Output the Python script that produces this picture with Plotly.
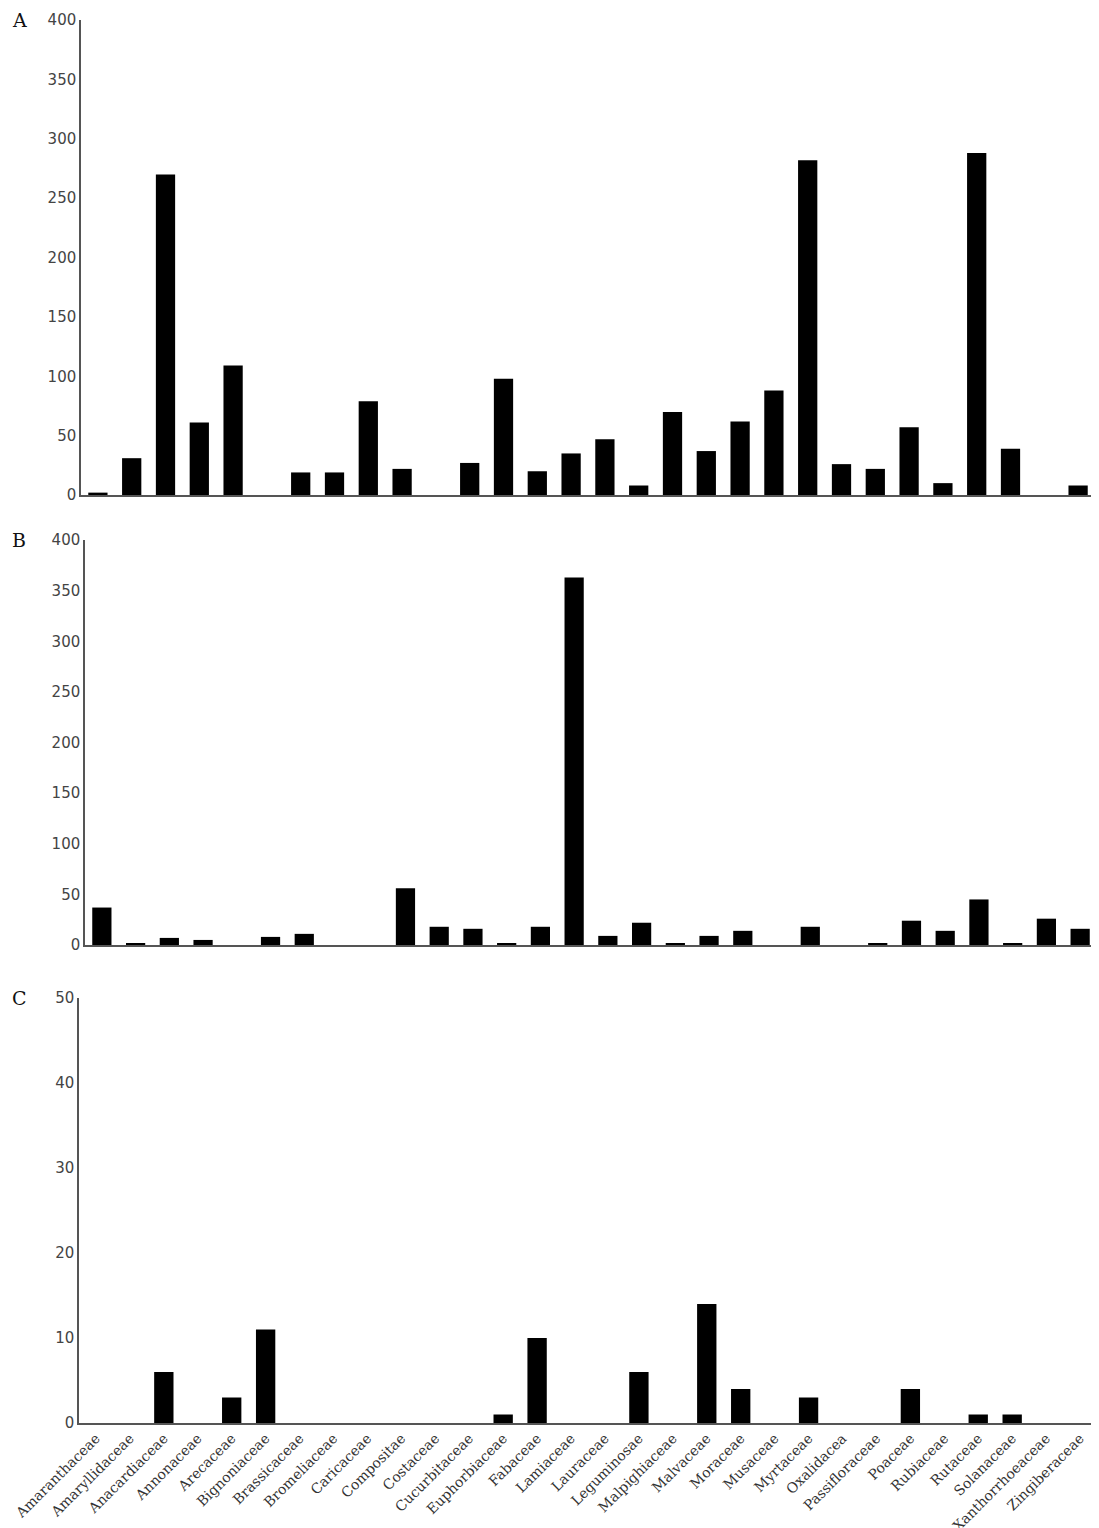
import plotly.graph_objects as go

families = ["Amaranthaceae", "Amaryllidaceae", "Anacardiaceae", "Annonaceae", "Arecaceae",
            "Bignoniaceae", "Brassicaceae", "Bromeliaceae", "Caricaceae", "Compositae",
            "Costaceae", "Cucurbitaceae", "Euphorbiaceae", "Fabaceae", "Lamiaceae",
            "Lauraceae", "Leguminosae", "Malpighiaceae", "Malvaceae", "Moraceae",
            "Musaceae", "Myrtaceae", "Oxalidacea", "Passifloraceae", "Poaceae",
            "Rubiaceae", "Rutaceae", "Solanaceae", "Xanthorrhoeaceae", "Zingiberaceae"]

values_a = [2, 31, 270, 61, 109, 0, 19, 19, 79, 22, 0, 27, 98, 20, 35,
            47, 8, 70, 37, 62, 88, 282, 26, 22, 57, 10, 288, 39, 0, 8]
values_b = [37, 2, 7, 5, 0, 8, 11, 0, 0, 56, 18, 16, 2, 18, 363,
            9, 22, 2, 9, 14, 0, 18, 0, 2, 24, 14, 45, 2, 26, 16]
values_c = [0, 0, 6, 0, 3, 11, 0, 0, 0, 0, 0, 0, 1, 10, 0,
            0, 6, 0, 14, 4, 0, 3, 0, 0, 4, 0, 1, 1, 0, 0]

panel_labels = ["A", "B", "C"]
y_ranges = [400, 400, 50]
y_dticks = [50, 50, 10]

OFF = 8  # page body margin
W, H = 1099 - OFF, 1528 - OFF
# pixel boxes in page coordinates: (x0, x1, ytop, ybottom)
boxes = [(81, 1095, 20, 495), (85, 1097, 540, 945), (79, 1097, 998, 1423)]

fig = go.Figure()
series = [values_a, values_b, values_c]
for i, vals in enumerate(series):
    n = i + 1
    xa = "x" if n == 1 else f"x{n}"
    ya = "y" if n == 1 else f"y{n}"
    fig.add_trace(go.Bar(x=families, y=vals, marker=dict(color="black", line=dict(width=0)),
                         width=0.57, xaxis=xa, yaxis=ya, showlegend=False))
    x0, x1, yt, yb = [v - OFF for v in boxes[i]]
    xkey = "xaxis" if n == 1 else f"xaxis{n}"
    ykey = "yaxis" if n == 1 else f"yaxis{n}"
    fig.layout[xkey] = dict(
        domain=[x0 / W, min(x1 / W, 1)], anchor=ya, type="category",
        categoryorder="array", categoryarray=families,
        range=[-0.5, len(families) - 0.5], automargin=False,
        showline=True, linecolor="#555555", linewidth=1.5,
        showgrid=False, zeroline=False, ticks="",
        showticklabels=(n == 3), tickangle=-45,
        tickfont=dict(family="DejaVu Serif", size=14, color="#333333"),
    )
    fig.layout[ykey] = dict(
        domain=[1 - yb / H, 1 - yt / H], anchor=xa, automargin=False,
        range=[0, y_ranges[i]], dtick=y_dticks[i], tick0=0,
        showline=True, linecolor="#555555", linewidth=1.5,
        showgrid=False, zeroline=False, ticks="",
        tickfont=dict(family="DejaVu Sans", size=15, color="#444444"),
    )
    fig.add_annotation(text=panel_labels[i], xref="paper", yref="paper",
                       x=(19 - OFF) / W, y=1 - yt / H, xanchor="center", yanchor="middle",
                       showarrow=False,
                       font=dict(family="DejaVu Serif", size=19, color="#111111"))

fig.update_layout(width=W, height=H, margin=dict(l=0, r=0, t=0, b=0, autoexpand=False),
                  paper_bgcolor="white", plot_bgcolor="white")

fig.write_html("out.html")
